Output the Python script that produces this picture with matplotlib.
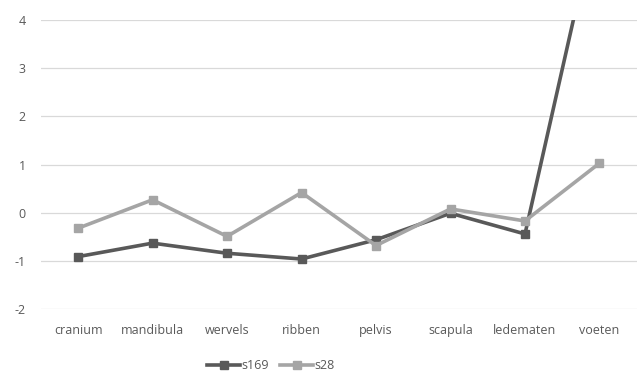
import matplotlib
matplotlib.use("Agg")
import matplotlib.pyplot as plt

categories = ["cranium", "mandibula", "wervels", "ribben", "pelvis", "scapula", "ledematen", "voeten"]
s169 = [-0.91, -0.63, -0.84, -0.96, -0.56, -0.01, -0.44, 6.4]
s28 = [-0.32, 0.27, -0.49, 0.42, -0.68, 0.08, -0.17, 1.03]
yticks = [-2, -1, 0, 1, 2, 3, 4]

plt.rcParams['font.family'] = ['Open Sans', 'DejaVu Sans']

fig = plt.figure(figsize=(6.38, 3.72), dpi=100)
ax = fig.add_axes([0.064, 0.169, 0.934, 0.777])

x = list(range(len(categories)))
ax.plot(x, s169, color="#595959", lw=2.6, marker="s", ms=6, label="s169", zorder=3)
ax.plot(x, s28, color="#a5a5a5", lw=2.6, marker="s", ms=6, label="s28", zorder=4)

ax.set_xlim(-0.5, len(categories) - 0.5)
ax.set_ylim(-2, 4)
ax.set_yticks(yticks)
ax.set_yticklabels([str(v) for v in yticks])
ax.set_xticks(x)
ax.set_xticklabels(categories)
ax.grid(axis="y", color="#d9d9d9", lw=0.9)
ax.set_axisbelow(True)
for s in ax.spines.values():
    s.set_visible(False)
ax.tick_params(length=0, labelsize=9, colors="#595959")
ax.tick_params(axis="x", pad=11)
ax.tick_params(axis="y", pad=11)

leg = fig.legend(loc="lower center", bbox_to_anchor=(0.425, -0.03), ncol=2, frameon=False,
                 fontsize=9, handlelength=2.6, columnspacing=0.9, handletextpad=0.15)
for t in leg.get_texts():
    t.set_color("#595959")

fig.savefig("out.png", dpi=100)
